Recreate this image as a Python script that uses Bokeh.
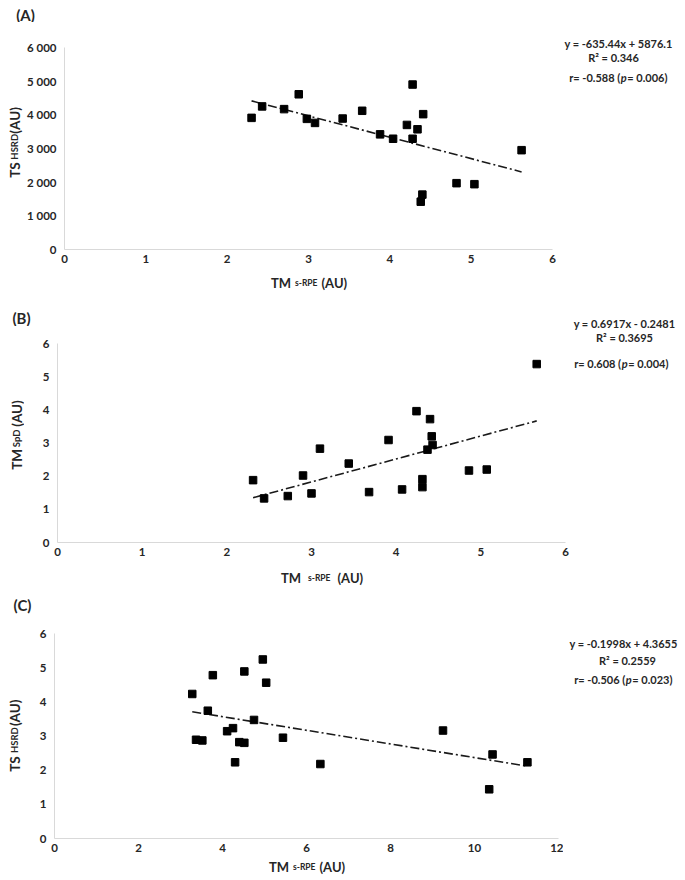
import math
from bokeh.plotting import figure
from bokeh.models import Range1d, FixedTicker
from bokeh.core.properties import value
from bokeh.layouts import column, row
from bokeh.embed import file_html
from bokeh.resources import INLINE

# ---------------- data ----------------
# Panel A: TM s-RPE vs TS HSRD
a_x = [2.30, 2.43, 2.70, 2.88, 2.98, 3.08, 3.42, 3.66, 3.88, 4.04,
       4.21, 4.28, 4.28, 4.34, 4.41, 4.40, 4.38, 4.82, 5.04, 5.62]
a_y = [3910, 4250, 4170, 4610, 3880, 3760, 3890, 4120, 3420, 3290,
       3700, 4900, 3290, 3570, 4020, 1630, 1420, 1970, 1940, 2950]
a_slope, a_intercept = -635.44, 5876.1
a_eq = ["y = -635.44x + 5876.1", "R² = 0.346", "r= -0.588 (", "p", "= 0.006)"]

# Panel B: TM s-RPE vs TM SpD
b_x = [2.31, 2.44, 2.72, 2.90, 3.00, 3.10, 3.44, 3.68, 3.91, 4.07,
       4.24, 4.31, 4.31, 4.37, 4.40, 4.42, 4.43, 4.86, 5.07, 5.66]
b_y = [1.88, 1.33, 1.40, 2.02, 1.48, 2.83, 2.38, 1.52, 3.09, 1.60,
       3.96, 1.91, 1.67, 2.80, 3.72, 3.20, 2.94, 2.17, 2.20, 5.38]
b_slope, b_intercept = 0.6917, -0.2481
b_eq = ["y = 0.6917x - 0.2481", "R² = 0.3695", "r= 0.608 (", "p", "= 0.004)"]

# Panel C: TM s-RPE vs TS HSRD
c_x = [3.28, 3.37, 3.52, 3.65, 3.77, 4.11, 4.25, 4.30, 4.40, 4.52,
       4.52, 4.75, 4.96, 5.04, 5.44, 6.33, 9.25, 10.43, 10.35, 11.26]
c_y = [4.23, 2.89, 2.87, 3.74, 4.78, 3.14, 3.23, 2.23, 2.82, 2.80,
       4.89, 3.47, 5.24, 4.56, 2.95, 2.18, 3.16, 2.46, 1.44, 2.23]
c_slope, c_intercept = -0.1998, 4.3655
c_eq = ["y = -0.1998x + 4.3655", "R² = 0.2559", "r= -0.506 (", "p", "= 0.023)"]

a_xticks = [0, 1, 2, 3, 4, 5, 6]
a_yticks = [0, 1000, 2000, 3000, 4000, 5000, 6000]
a_ylabels = ["0", "1 000", "2 000", "3 000", "4 000", "5 000", "6 000"]
b_xticks = [0, 1, 2, 3, 4, 5, 6]
b_yticks = [0, 1, 2, 3, 4, 5, 6]
c_xticks = [0, 2, 4, 6, 8, 10, 12]
c_yticks = [0, 1, 2, 3, 4, 5, 6]

FONT = "Lato"
TXT = "#262626"
PAGE_L, PAGE_R = 0, 685
LEFT_W = 24

W = {' ': 0.20, '(': 0.33, ')': 0.33, '-': 0.36, '.': 0.26, '=': 0.58, '+': 0.58,
     'T': 0.575, 'M': 0.895, 'S': 0.545, 'H': 0.75, 'R': 0.615, 'D': 0.72, 'A': 0.685,
     'U': 0.70, 'P': 0.60, 'E': 0.53, 'p': 0.56, 's': 0.43, 'x': 0.52, 'y': 0.52,
     'r': 0.38, '²': 0.38}


def tw(s, size):
    return sum(W.get(ch, 0.58) for ch in s) * size


def strip(w, h):
    """A blank figure whose data units are its own pixels (y downward)."""
    s = figure(width=w, height=h, output_backend="svg", toolbar_location=None,
               x_range=Range1d(0, w), y_range=Range1d(h, 0),
               x_axis_location=None, y_axis_location=None,
               min_border=0, min_border_left=0, min_border_right=0,
               min_border_top=0, min_border_bottom=0)
    s.outline_line_color = None
    s.xgrid.visible = False
    s.ygrid.visible = False
    s.background_fill_color = "white"
    s.border_fill_color = "white"
    return s


def put(s, x, y, txt, sz, st, angle=0.0, align="left"):
    s.text(x=[x], y=[y], text=[txt], angle=angle,
           text_font=value(FONT), text_font_size=value(f"{sz}px"),
           text_font_style=value(st), text_align=align,
           text_baseline="middle", text_color=TXT)


def rich(s, pieces, cx, cy, angle=0.0):
    """pieces: (text, size, style, gap after); (cx, cy) centre in the strip's own pixels."""
    total = sum(tw(t, sz) + g for t, sz, st, g in pieces) - pieces[-1][3]
    pos = (cx - total / 2) if angle == 0 else (cy + total / 2)
    for t, sz, st, g in pieces:
        if angle == 0:
            put(s, pos, cy, t, sz, st)
            pos += tw(t, sz) + g
        else:
            put(s, cx, pos, t, sz, st, angle=angle)
            pos -= tw(t, sz) + g


def panel(xs, ys, slope, intercept, xr, yr, xticks, yticks, frame, top, height,
          top_h, tag, tag_c, xtitle, xt_c, ytitle, yt_c, eq, eq_x, eq_y, ylabels=None):
    fl, fr, ft, fb = frame
    main_l = PAGE_L + LEFT_W
    main_r = fr + 5
    main_top = top + top_h
    main_bot = fb + 21
    bot_h = top + height - main_bot

    p = figure(width=main_r - main_l, height=main_bot - main_top,
               output_backend="svg", toolbar_location=None,
               x_range=Range1d(*xr), y_range=Range1d(*yr),
               min_border_left=fl - main_l, min_border_right=main_r - fr,
               min_border_top=ft - main_top, min_border_bottom=main_bot - fb)
    p.outline_line_color = None
    p.xgrid.visible = False
    p.ygrid.visible = False
    p.background_fill_color = "white"
    p.border_fill_color = "white"
    for ax in (p.xaxis[0], p.yaxis[0]):
        ax.axis_line_color = "#d9d9d9"
        ax.axis_line_width = 1
        ax.major_tick_line_color = None
        ax.minor_tick_line_color = None
        ax.major_tick_out = 0
        ax.major_tick_in = 0
        ax.minor_tick_out = 0
        ax.minor_tick_in = 0
        ax.major_label_text_font = FONT
        ax.major_label_text_font_style = "bold"
        ax.major_label_text_font_size = "11.5px"
        ax.major_label_text_color = TXT
    p.xaxis[0].ticker = FixedTicker(ticks=xticks)
    p.yaxis[0].ticker = FixedTicker(ticks=yticks)
    p.xaxis[0].major_label_standoff = 5
    p.yaxis[0].major_label_standoff = 8
    if ylabels:
        p.yaxis[0].major_label_overrides = {t: l for t, l in zip(yticks, ylabels)}

    x0, x1 = min(xs), max(xs)
    p.line([x0, x1], [slope * x0 + intercept, slope * x1 + intercept],
           line_color="#1a1a1a", line_width=1.6, line_dash="9 3 2 3")
    p.scatter(xs, ys, marker="square", size=7.5, fill_color="black", line_color="black")

    # strips holding the texts
    top_s = strip(main_r - PAGE_L, top_h)
    put(top_s, tag_c[0] - PAGE_L, tag_c[1] - top, tag, 15, "bold", align="center")

    left_s = strip(LEFT_W, main_bot - main_top)
    rich(left_s, ytitle, yt_c[0] - PAGE_L, yt_c[1] - main_top, angle=math.pi / 2)

    bot_s = strip(main_r - PAGE_L, bot_h)
    rich(bot_s, xtitle, xt_c[0] - PAGE_L, xt_c[1] - main_bot)

    right_s = strip(PAGE_R - main_r, height)
    put(right_s, eq_x[0] - main_r, eq_y[0] - top, eq[0], 11, "bold", align="center")
    put(right_s, eq_x[1] - main_r, eq_y[1] - top, eq[1], 11, "bold", align="center")
    rich(right_s, [(eq[2], 11, "bold", 0.6), (eq[3], 11, "bold italic", 0.4),
                   (eq[4], 11, "bold", 0)], eq_x[2] - main_r, eq_y[2] - top)

    return row(column(top_s, row(left_s, p), bot_s), right_s)


def xtitle(gap):
    return [("TM", 13, "bold", gap), ("s-RPE", 8.5, "bold", gap), ("(AU)", 13, "bold", 0)]


def ytitle(a, b, gap):
    return [(a, 13.5, "bold", gap), (b, 9.5, "bold", gap), ("(AU)", 13.5, "bold", 0)]


pa = panel(a_x, a_y, a_slope, a_intercept, (0, 6), (0, 6000), a_xticks, a_yticks,
           (62, 552, 47, 249), 0, 296, 22, "(A)", (25, 14), xtitle(5), (309, 282),
           ytitle("TS", "HSRD", 7), (14, 141), a_eq, (618, 613, 618), (43, 57, 77),
           ylabels=a_ylabels)
pb = panel(b_x, b_y, b_slope, b_intercept, (0, 6), (0, 6), b_xticks, b_yticks,
           (57, 565, 343, 542), 296, 290, 30, "(B)", (21, 317), xtitle(8), (322, 577),
           ytitle("TM", "SpD", 7), (16, 437), b_eq, (624, 624, 621), (323, 337, 363))
pc = panel(c_x, c_y, c_slope, c_intercept, (0, 12), (0, 6), c_xticks, c_yticks,
           (54, 558, 633, 838), 586, 290, 30, "(C)", (22, 604), xtitle(5), (307, 866),
           ytitle("TS", "HSRD", 7), (14, 739), c_eq, (623, 627, 623), (643, 660, 679))

layout = column(pa, pb, pc)
open("out.html", "w").write(file_html(layout, INLINE))
